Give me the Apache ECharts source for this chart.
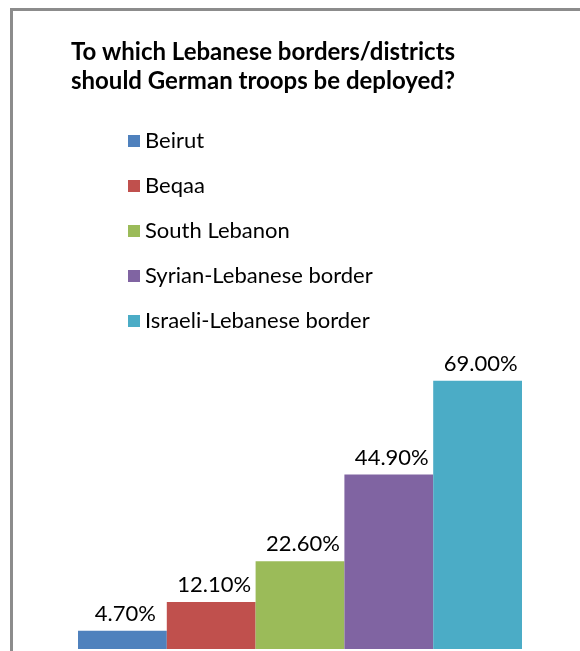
<!DOCTYPE html>
<html>
<head>
<meta charset="utf-8">
<script src="https://cdn.jsdelivr.net/npm/echarts@6/dist/echarts.min.js"></script>
<style>
  html, body { margin: 0; padding: 0; background: #fff; }
  #chart { width: 580px; height: 651px; }
</style>
</head>
<body>
<div id="chart"></div>
<script>
// 資料
var titleLines = ['To which Lebanese borders/districts', 'should German troops be deployed?'];
var regions = ['Beirut', 'Beqaa', 'South Lebanon', 'Syrian-Lebanese border', 'Israeli-Lebanese border'];
var shares = [4.7, 12.1, 22.6, 44.9, 69.0];
var colors = ['#4F81BD', '#C0504D', '#9BBB59', '#8064A2', '#4BACC6'];
var fontName = 'Lato, "Open Sans", sans-serif';

var chart = echarts.init(document.getElementById('chart'));

// 每個地區一個 series，讓圖例可以分開顯示
var series = regions.map(function (name, i) {
    return {
        name: name,
        type: 'bar',
        data: [shares[i]],
        barGap: '0%',
        barCategoryGap: '0%',
        itemStyle: { color: colors[i] },
        label: {
            show: true,
            position: 'top',
            distance: 6,
            offset: [3, 0],
            color: '#000',
            fontFamily: fontName,
            fontSize: 22,
            formatter: function (p) { return p.value.toFixed(2) + '%'; }
        }
    };
});

// 標題每行各自置中
var titles = titleLines.map(function (line, i) {
    return {
        text: line,
        left: 258,
        textAlign: 'center',
        top: 35 + i * 29,
        textStyle: {
            fontFamily: fontName,
            fontWeight: 'bold',
            fontSize: 24,
            color: '#000'
        }
    };
});

var option = {
    animation: false,
    backgroundColor: '#fff',
    color: colors,
    title: titles,
    legend: {
        orient: 'vertical',
        left: 123,
        top: 125,
        itemWidth: 12,
        itemHeight: 12,
        itemGap: 23,
        icon: 'rect',
        data: regions,
        textStyle: {
            fontFamily: fontName,
            fontSize: 22,
            color: '#000'
        }
    },
    grid: { left: 78, right: 58, top: 338, bottom: 2 },
    xAxis: {
        type: 'category',
        data: [''],
        axisLine: { show: false },
        axisTick: { show: false },
        axisLabel: { show: false }
    },
    yAxis: {
        type: 'value',
        min: 0,
        max: 80,
        show: false,
        splitLine: { show: false }
    },
    graphic: [
        {
            type: 'rect',
            shape: { x: 11.5, y: 9.5, width: 700, height: 700 },
            style: { fill: null, stroke: '#8c8c8c', lineWidth: 3 },
            silent: true
        }
    ],
    series: series
};

chart.setOption(option);
</script>
</body>
</html>
